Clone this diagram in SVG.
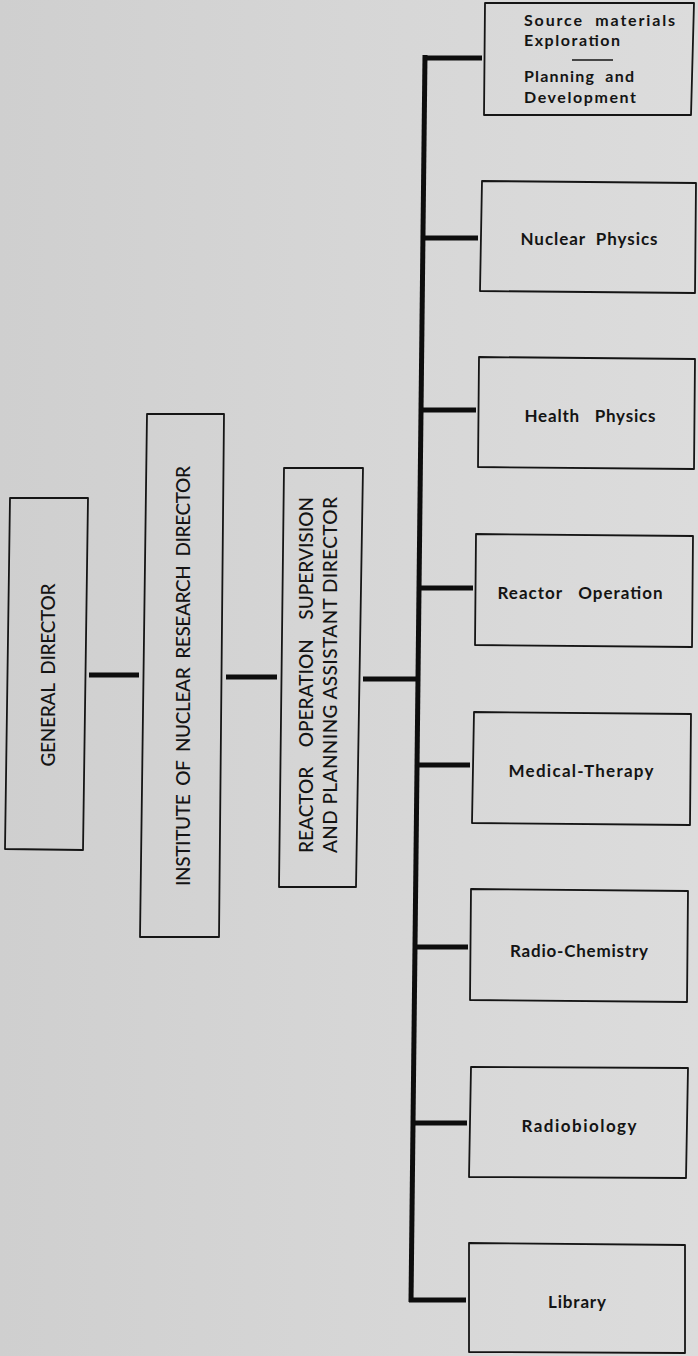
<svg xmlns="http://www.w3.org/2000/svg" width="698" height="1356" viewBox="0 0 698 1356">
<defs>
<linearGradient id="bg" x1="0" y1="0" x2="1" y2="0">
<stop offset="0" stop-color="#cfcfcf"/>
<stop offset="0.5" stop-color="#d6d6d6"/>
<stop offset="1" stop-color="#dcdcdc"/>
</linearGradient>
<style>
text{white-space:pre}
.box{fill:none;stroke:#151515;stroke-width:1.8;stroke-linejoin:round}
.con{fill:none;stroke:#0d0d0d;stroke-width:5;stroke-linecap:butt}
.rt{font-family:Lato,"Liberation Sans",sans-serif;font-size:19px;font-weight:500;fill:#141414;text-anchor:middle}
.lb{font-family:Lato,"Liberation Sans",sans-serif;font-size:17px;font-weight:700;fill:#141414;text-anchor:middle}
.lt{font-family:Lato,"Liberation Sans",sans-serif;font-size:16px;font-weight:700;fill:#141414}
</style>
</defs>
<rect width="698" height="1356" fill="url(#bg)"/>
<g id="connectors">
<line class="con" x1="89" y1="675" x2="139" y2="675"/>
<line class="con" x1="226" y1="677" x2="277" y2="677"/>
<line class="con" x1="363" y1="679" x2="418" y2="679"/>
<polyline class="con" points="425,55 411,1302"/>
<line class="con" x1="423" y1="58" x2="482" y2="58"/>
<line class="con" x1="423" y1="238" x2="478" y2="238"/>
<line class="con" x1="421" y1="410" x2="476" y2="410"/>
<line class="con" x1="419" y1="588" x2="473" y2="588"/>
<line class="con" x1="418" y1="765" x2="470" y2="765"/>
<line class="con" x1="415" y1="947" x2="468" y2="947"/>
<line class="con" x1="413" y1="1123" x2="467" y2="1123"/>
<line class="con" x1="409" y1="1300" x2="466" y2="1300"/>
</g>
<g id="general-director">
<polygon class="box" points="10,498 88,498 83,850 5,849"/>
<text class="rt" transform="translate(55,675) rotate(-90)" textLength="183" lengthAdjust="spacing">GENERAL  DIRECTOR</text>
</g>
<g id="institute-director">
<polygon class="box" points="147,414 224,414 219,937 140,937"/>
<text class="rt" transform="translate(190,676) rotate(-90)" textLength="420" lengthAdjust="spacing">INSTITUTE  OF  NUCLEAR  RESEARCH  DIRECTOR</text>
</g>
<g id="reactor-assistant-director">
<polygon class="box" points="284,468 363,468 356,887 279,887"/>
<text class="rt" transform="translate(313,675) rotate(-90)" textLength="356" lengthAdjust="spacing">REACTOR    OPERATION    SUPERVISION</text>
<text class="rt" transform="translate(337,675) rotate(-90)" textLength="356" lengthAdjust="spacing">AND PLANNING ASSISTANT DIRECTOR</text>
</g>
<g id="source-materials">
<polygon class="box" points="485,3 694,3 691,115 484,115"/>
<text class="lt" x="524" y="26" textLength="151" lengthAdjust="spacing">Source  materials</text>
<text class="lt" x="524" y="46" textLength="96" lengthAdjust="spacing">Exploration</text>
<line x1="572" y1="60" x2="613" y2="60" stroke="#151515" stroke-width="1.5"/>
<text class="lt" x="524" y="82" textLength="110" lengthAdjust="spacing">Planning  and</text>
<text class="lt" x="524" y="103" textLength="112" lengthAdjust="spacing">Development</text>
</g>
<g id="nuclear-physics">
<polygon class="box" points="482,181 696,183 695,293 480,291"/>
<text class="lb" x="589" y="245" textLength="137" lengthAdjust="spacing">Nuclear  Physics</text>
</g>
<g id="health-physics">
<polygon class="box" points="479,357 695,359 694,469 478,467"/>
<text class="lb" x="590" y="422" textLength="131" lengthAdjust="spacing">Health   Physics</text>
</g>
<g id="reactor-operation">
<polygon class="box" points="476,534 693,536 692,647 475,645"/>
<text class="lb" x="580" y="599" textLength="165" lengthAdjust="spacing">Reactor   Operation</text>
</g>
<g id="medical-therapy">
<polygon class="box" points="474,712 691,714 690,825 472,823"/>
<text class="lb" x="581" y="777" textLength="145" lengthAdjust="spacing">Medical-Therapy</text>
</g>
<g id="radio-chemistry">
<polygon class="box" points="471,889 688,891 687,1002 470,1000"/>
<text class="lb" x="579" y="957" textLength="138" lengthAdjust="spacing">Radio-Chemistry</text>
</g>
<g id="radiobiology">
<polygon class="box" points="471,1067 688,1068 686,1178 469,1177"/>
<text class="lb" x="579" y="1132" textLength="115" lengthAdjust="spacing">Radiobiology</text>
</g>
<g id="library">
<polygon class="box" points="469,1243 685,1245 685,1353 469,1352"/>
<text class="lb" x="577" y="1308" textLength="58" lengthAdjust="spacing">Library</text>
</g>
</svg>
